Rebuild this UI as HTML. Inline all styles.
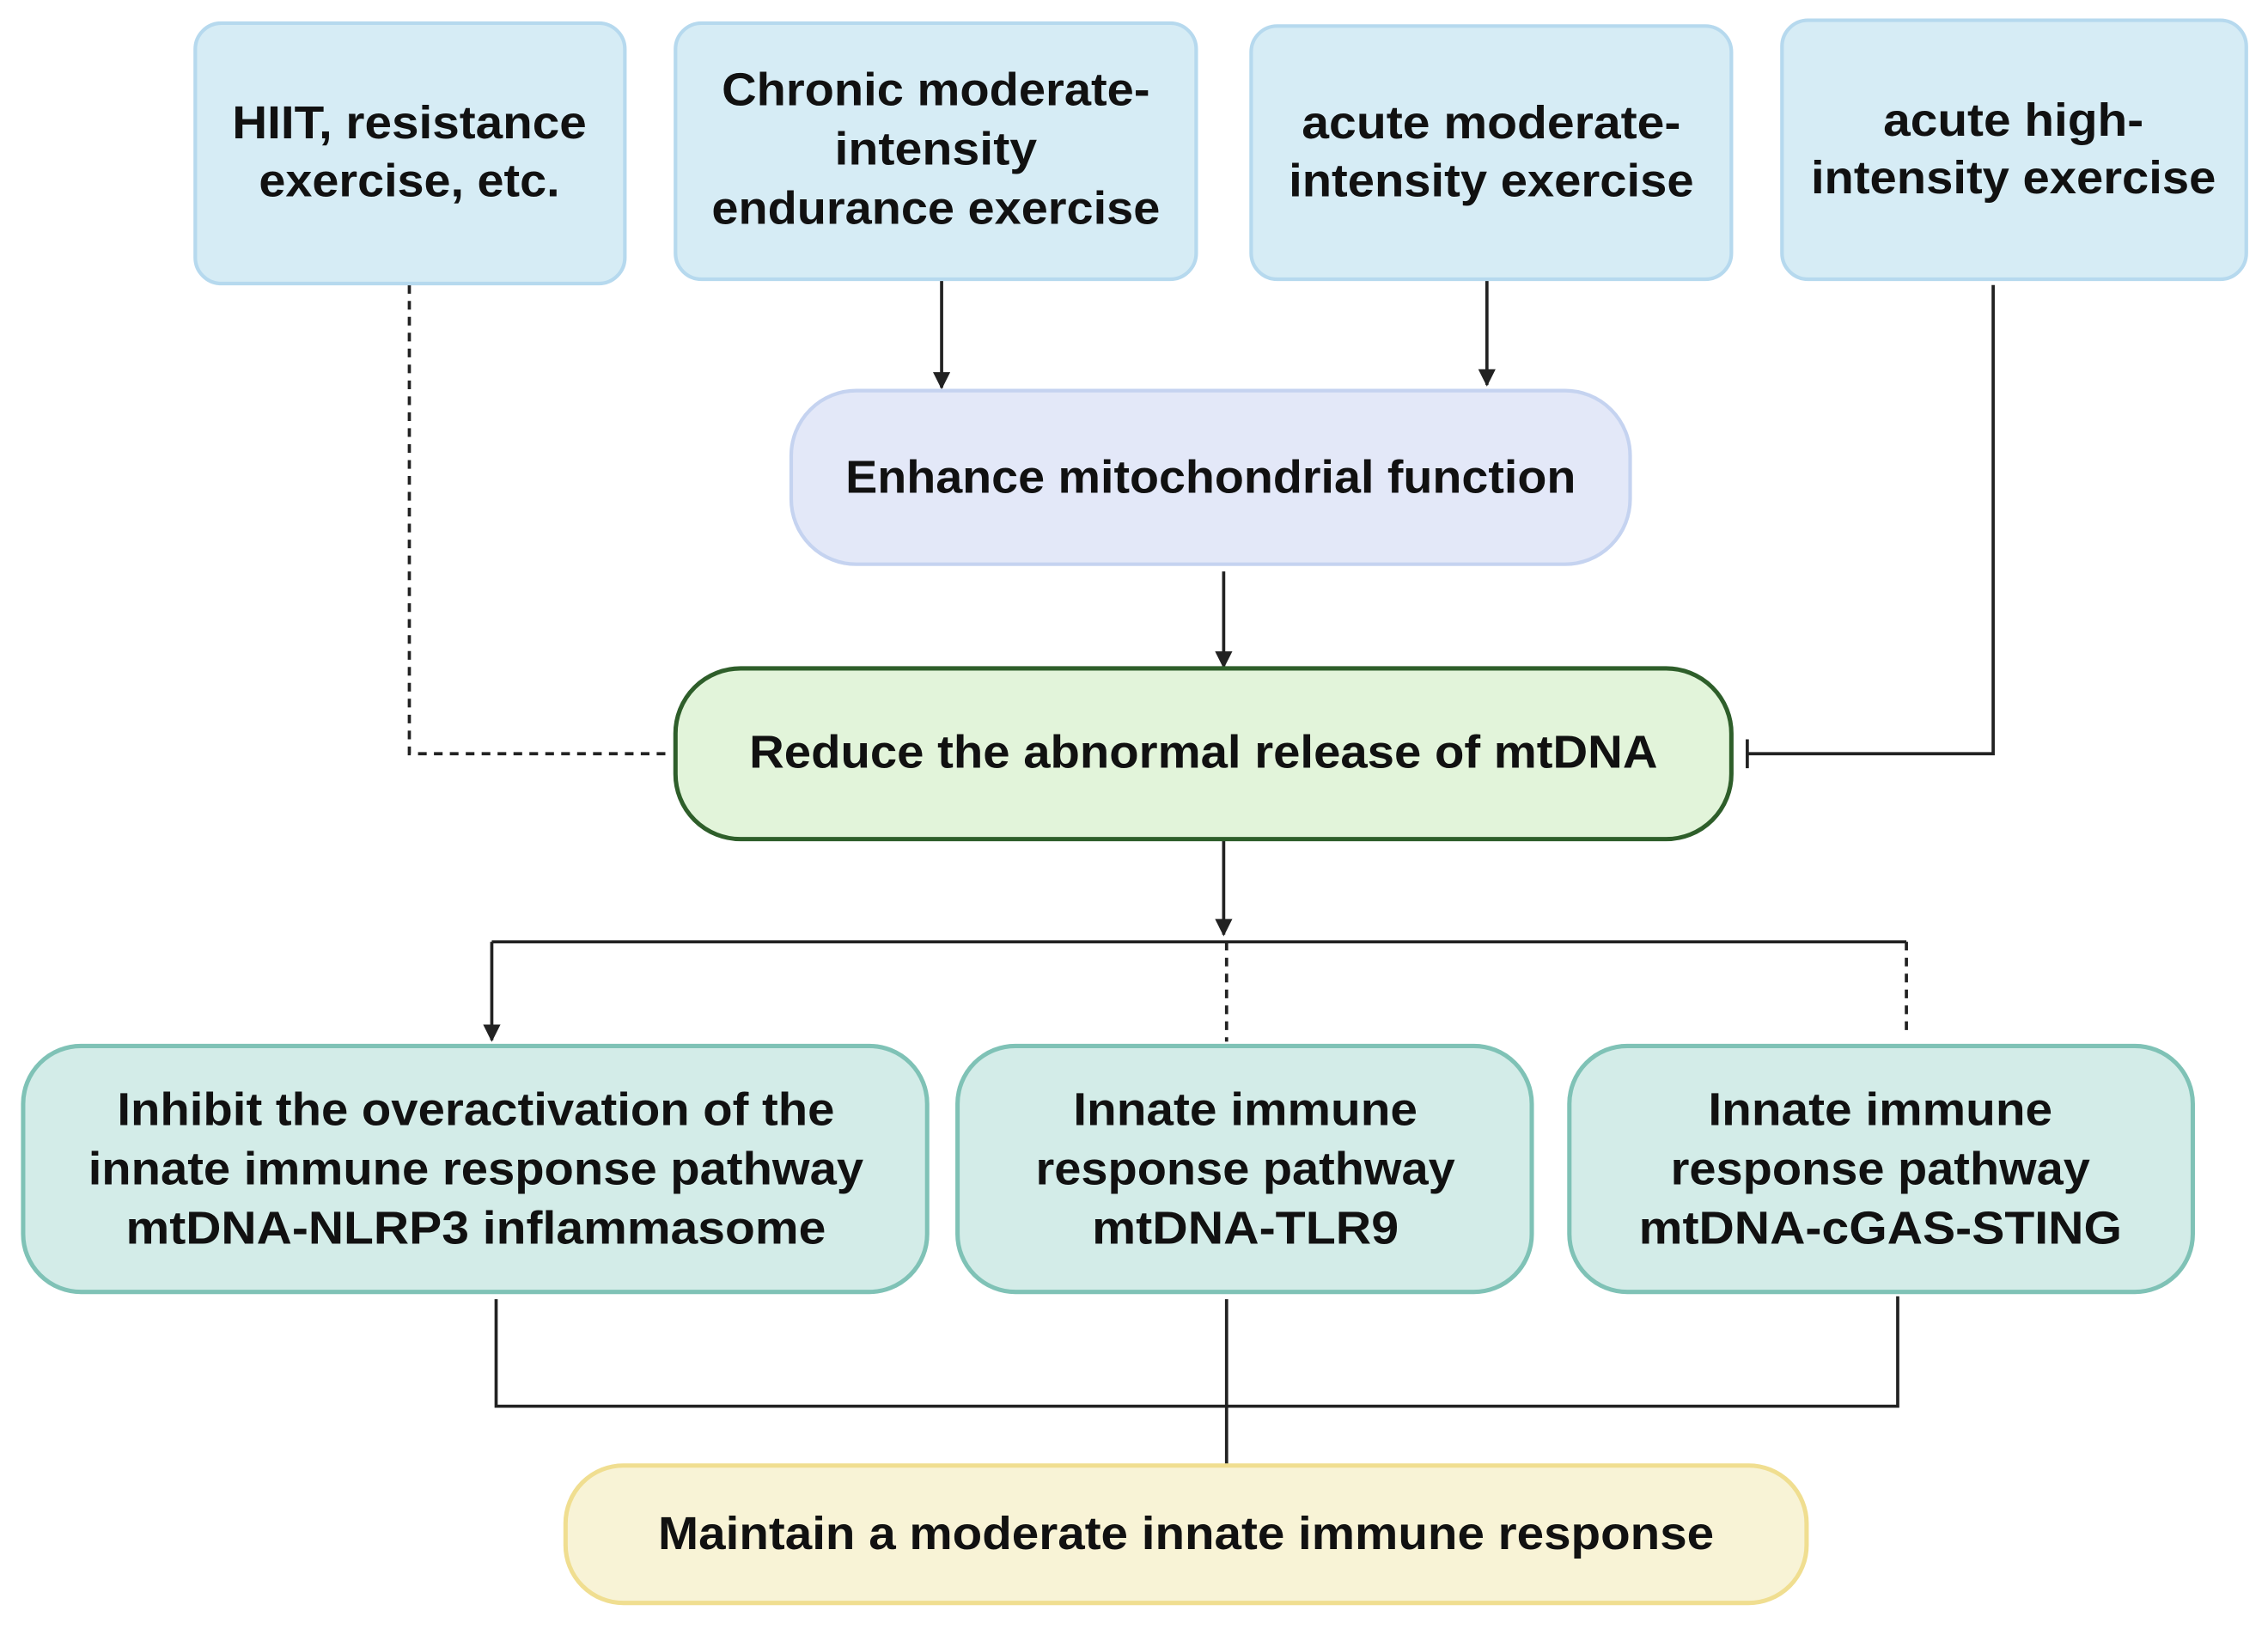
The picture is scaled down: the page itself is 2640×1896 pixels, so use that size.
<!DOCTYPE html>
<html><head><meta charset="utf-8"><style>html,body{margin:0;padding:0;background:#fff}svg{display:block}</style></head><body>
<svg width="2640" height="1896" viewBox="0 0 1568 1126" preserveAspectRatio="none" xmlns="http://www.w3.org/2000/svg">
<defs><marker id="a" viewBox="0 0 10 10" refX="9" refY="5" markerWidth="7" markerHeight="7" orient="auto" markerUnits="userSpaceOnUse"><path d="M0,0L10,5L0,10z" fill="#222"/></marker>
<marker id="b" viewBox="0 0 10 10" refX="9" refY="5" markerWidth="12" markerHeight="12" orient="auto" markerUnits="userSpaceOnUse"><path d="M0,0L10,5L0,10z" fill="#222"/></marker></defs>
<g fill="none" stroke="#222" stroke-width="2.2">
<path d="M283,197V521H462" stroke-dasharray="6,5"/>
<path d="M651,193V268" marker-end="url(#b)"/>
<path d="M1028,193V266" marker-end="url(#b)"/>
<path d="M846,395V461" marker-end="url(#b)"/>
<path d="M1378,197V521H1208M1208,511V531"/>
<path d="M846,580V646" marker-end="url(#b)"/>
<path d="M340,651H1318"/>
<path d="M340,651V719" marker-end="url(#b)"/>
<path d="M848,651V720M1318,651V716" stroke-dasharray="6,5"/>
<path d="M343,898V972H1312V896M848,898V1013"/>
</g>
<g stroke-width="2.5">
<rect x="135" y="16" width="297" height="180" rx="18" fill="#d6ecf5" stroke="#b6d9ee"/>
<rect x="467" y="16" width="360" height="177" rx="18" fill="#d6ecf5" stroke="#b6d9ee"/>
<rect x="865" y="18" width="332" height="175" rx="18" fill="#d6ecf5" stroke="#b6d9ee"/>
<rect x="1232" y="14" width="321" height="179" rx="18" fill="#d6ecf5" stroke="#b6d9ee"/>
<rect x="547" y="270" width="580" height="120" rx="45" fill="#e3e8f8" stroke="#c5d3f0"/>
<rect x="467" y="462" width="730" height="118" rx="45" fill="#e2f4da" stroke="#2e5e2a" stroke-width="3"/>
<rect x="16" y="723" width="625" height="170" rx="40" fill="#d3ece8" stroke="#7fc2b6" stroke-width="3"/>
<rect x="662" y="723" width="397" height="170" rx="40" fill="#d3ece8" stroke="#7fc2b6" stroke-width="3"/>
<rect x="1085" y="723" width="431" height="170" rx="40" fill="#d3ece8" stroke="#7fc2b6" stroke-width="3"/>
<rect x="391" y="1013" width="858" height="95" rx="40" fill="#f8f3d6" stroke="#f0de90" stroke-width="3"/>
</g>
<g font-family="Liberation Sans, sans-serif" font-weight="bold" font-size="32" fill="#111" text-anchor="middle" dominant-baseline="central">
<text x="283" y="85" textLength="245" lengthAdjust="spacingAndGlyphs">HIIT, resistance</text>
<text x="283" y="125" textLength="208" lengthAdjust="spacingAndGlyphs">exercise, etc.</text>
<text x="647" y="62" textLength="296" lengthAdjust="spacingAndGlyphs">Chronic moderate-</text>
<text x="647" y="103" textLength="140" lengthAdjust="spacingAndGlyphs">intensity</text>
<text x="647" y="144" textLength="310" lengthAdjust="spacingAndGlyphs">endurance exercise</text>
<text x="1031" y="85" textLength="262" lengthAdjust="spacingAndGlyphs">acute moderate-</text>
<text x="1031" y="125" textLength="280" lengthAdjust="spacingAndGlyphs">intensity exercise</text>
<text x="1392" y="83" textLength="180" lengthAdjust="spacingAndGlyphs">acute high-</text>
<text x="1392" y="123" textLength="280" lengthAdjust="spacingAndGlyphs">intensity exercise</text>
<text x="837" y="330" textLength="505" lengthAdjust="spacingAndGlyphs">Enhance mitochondrial function</text>
<text x="832" y="520" textLength="628" lengthAdjust="spacingAndGlyphs">Reduce the abnormal release of mtDNA</text>
<text x="329" y="767" textLength="496" lengthAdjust="spacingAndGlyphs">Inhibit the overactivation of the</text>
<text x="329" y="808" textLength="536" lengthAdjust="spacingAndGlyphs">innate immune response pathway</text>
<text x="329" y="849" textLength="484" lengthAdjust="spacingAndGlyphs">mtDNA-NLRP3 inflammasome</text>
<text x="861" y="767" textLength="238" lengthAdjust="spacingAndGlyphs">Innate immune</text>
<text x="861" y="808" textLength="290" lengthAdjust="spacingAndGlyphs">response pathway</text>
<text x="861" y="849" textLength="212" lengthAdjust="spacingAndGlyphs">mtDNA-TLR9</text>
<text x="1300" y="767" textLength="238" lengthAdjust="spacingAndGlyphs">Innate immune</text>
<text x="1300" y="808" textLength="290" lengthAdjust="spacingAndGlyphs">response pathway</text>
<text x="1300" y="849" textLength="334" lengthAdjust="spacingAndGlyphs">mtDNA-cGAS-STING</text>
<text x="820" y="1060" textLength="730" lengthAdjust="spacingAndGlyphs">Maintain a moderate innate immune response</text>
</g>
</svg>
</body></html>
